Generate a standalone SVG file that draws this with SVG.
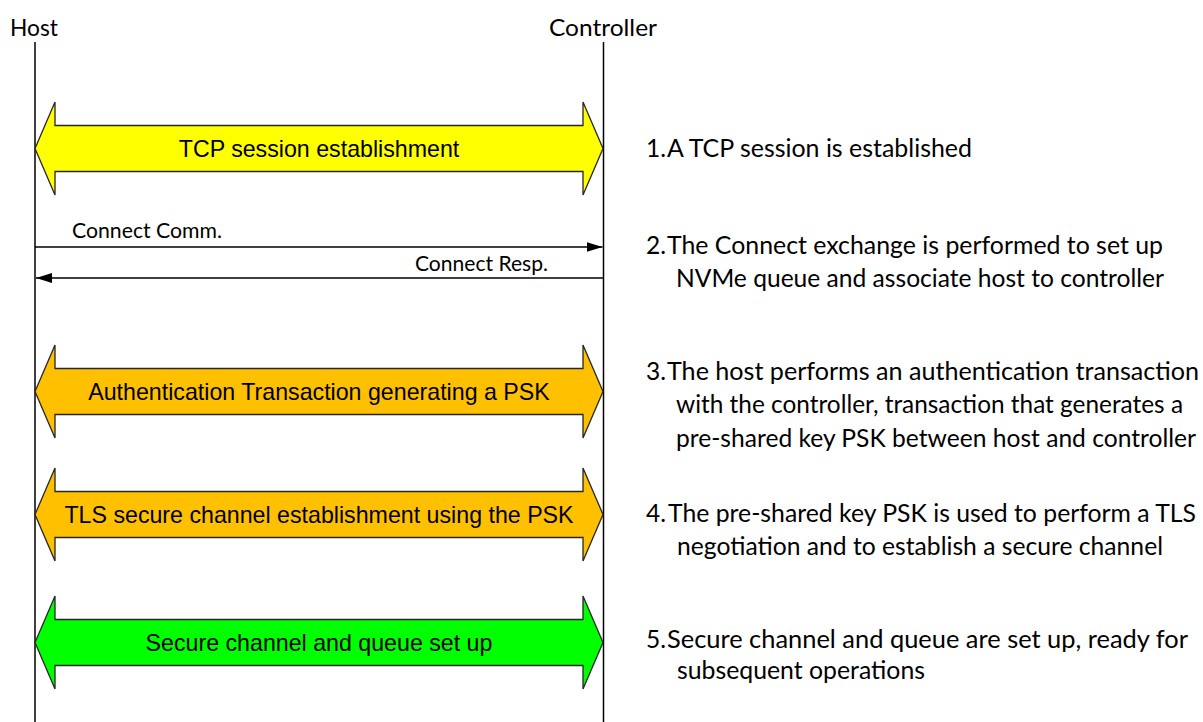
<svg xmlns="http://www.w3.org/2000/svg" width="1203" height="722" viewBox="0 0 1203 722">
<style>
.life{stroke:#000;stroke-width:1.5;fill:none}
.blk{stroke:#262626;stroke-width:1.3;stroke-linejoin:miter}
.lbl{font-family:"Liberation Sans",Arial,sans-serif;font-size:23.2px;fill:#000;text-anchor:middle}
.cal{font-family:Lato,"Open Sans",sans-serif;fill:#000}
.hd{font-size:24px}
.msg{font-size:21px}
.note{font-size:24.5px}
.conn{stroke:#000;stroke-width:1.5;fill:none}
</style>
<defs>
<marker id="ah" viewBox="0 0 16 10" refX="16" refY="5" markerWidth="16" markerHeight="10" markerUnits="userSpaceOnUse" orient="auto">
<path d="M0,0 L16,5 L0,10 Z" fill="#000"/>
</marker>
</defs>
<rect width="1203" height="722" fill="#fff"/>
<g id="host">
<text class="cal hd" x="10" y="36" textLength="48" lengthAdjust="spacingAndGlyphs">Host</text>
<line class="life" x1="35" y1="42" x2="35" y2="722"/>
</g>
<g id="controller">
<text class="cal hd" x="549" y="36" textLength="108" lengthAdjust="spacingAndGlyphs">Controller</text>
<line class="life" x1="603.5" y1="42" x2="603.5" y2="722"/>
</g>
<g id="tcp">
<path class="blk" fill="#FFFF00" d="M35,148.5 L55,102 L55,125.5 L583,125.5 L583,102 L603,148.5 L583,195 L583,171.5 L55,171.5 L55,195 Z"/>
<text class="lbl" x="319" y="156.5">TCP session establishment</text>
</g>
<g id="auth">
<path class="blk" fill="#FFC000" d="M35,391.5 L55,345 L55,368.5 L583,368.5 L583,345 L603,391.5 L583,438 L583,414.5 L55,414.5 L55,438 Z"/>
<text class="lbl" x="319" y="399.5">Authentication Transaction generating a PSK</text>
</g>
<g id="tls">
<path class="blk" fill="#FFC000" d="M35,514.5 L55,468 L55,491.5 L583,491.5 L583,468 L603,514.5 L583,561 L583,537.5 L55,537.5 L55,561 Z"/>
<text class="lbl" x="319" y="522.5">TLS secure channel establishment using the PSK</text>
</g>
<g id="secure">
<path class="blk" fill="#00FF00" d="M35,642.5 L55,596 L55,619.5 L583,619.5 L583,596 L603,642.5 L583,689 L583,665.5 L55,665.5 L55,689 Z"/>
<text class="lbl" x="319" y="650.5">Secure channel and queue set up</text>
</g>
<g id="connectors">
<line class="conn" x1="35" y1="247" x2="602.5" y2="247" marker-end="url(#ah)"/>
<line class="conn" x1="603.5" y1="278" x2="36" y2="278" marker-end="url(#ah)"/>
<text class="cal msg" x="72" y="238" textLength="150" lengthAdjust="spacingAndGlyphs">Connect Comm.</text>
<text class="cal msg" x="415" y="271" textLength="133" lengthAdjust="spacingAndGlyphs">Connect Resp.</text>
</g>
<g id="note1">
<text class="cal note" x="646" y="157">1.</text>
<text class="cal note" x="667" y="157" textLength="305" lengthAdjust="spacingAndGlyphs">A TCP session is established</text>
</g>
<g id="note2">
<text class="cal note" x="646" y="254">2.</text>
<text class="cal note" x="667" y="254" textLength="496" lengthAdjust="spacingAndGlyphs">The Connect exchange is performed to set up</text>
<text class="cal note" x="676" y="287" textLength="488" lengthAdjust="spacingAndGlyphs">NVMe queue and associate host to controller</text>
</g>
<g id="note3">
<text class="cal note" x="646" y="380">3.</text>
<text class="cal note" x="667" y="380" textLength="532" lengthAdjust="spacingAndGlyphs">The host performs an authentication transaction</text>
<text class="cal note" x="676" y="413" textLength="507" lengthAdjust="spacingAndGlyphs">with the controller, transaction that generates a</text>
<text class="cal note" x="676" y="447" textLength="520" lengthAdjust="spacingAndGlyphs">pre-shared key PSK between host and controller</text>
</g>
<g id="note4">
<text class="cal note" x="646" y="522">4.</text>
<text class="cal note" x="668" y="522" textLength="528" lengthAdjust="spacingAndGlyphs">The pre-shared key PSK is used to perform a TLS</text>
<text class="cal note" x="677" y="555" textLength="486" lengthAdjust="spacingAndGlyphs">negotiation and to establish a secure channel</text>
</g>
<g id="note5">
<text class="cal note" x="646" y="648">5.</text>
<text class="cal note" x="667" y="648" textLength="521" lengthAdjust="spacingAndGlyphs">Secure channel and queue are set up, ready for</text>
<text class="cal note" x="677" y="679" textLength="248" lengthAdjust="spacingAndGlyphs">subsequent operations</text>
</g>
</svg>
